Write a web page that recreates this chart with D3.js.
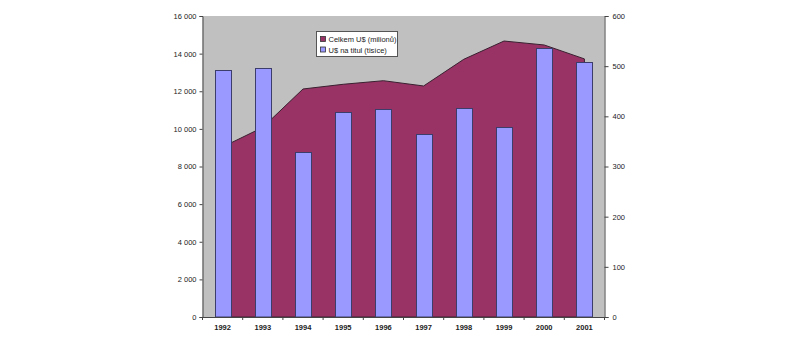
<!DOCTYPE html>
<html><head><meta charset="utf-8">
<script src="https://cdn.jsdelivr.net/npm/d3@7/dist/d3.min.js"></script>
<style>body{margin:0;background:#fff;} svg{display:block;font-family:"Liberation Sans",Arial,sans-serif;}</style>
</head><body>
<svg id="c" width="800" height="342"></svg>
<script>
const years = ["1992","1993","1994","1995","1996","1997","1998","1999","2000","2001"];
const totalUSD = [9040, 10080, 12120, 12370, 12560, 12280, 13700, 14670, 14460, 13720];
const perTitle = [492, 496, 329, 409, 415, 364, 416, 378, 536, 508];
const leftTicks = [0,2000,4000,6000,8000,10000,12000,14000,16000];
const rightTicks = [0,100,200,300,400,500,600];
const seriesNames = ["Celkem U$ (milionů)", "U$ na titul (tisíce)"];

const svg = d3.select("#c");
const L = 202.5, R = 604.5, T = 16, B = 317;
const x = d3.scaleBand().domain(years).range([L, R]).padding(0);
const yL = d3.scaleLinear().domain([0,16000]).range([B, T]);
const yR = d3.scaleLinear().domain([0,600]).range([B, T]);

svg.append("rect").attr("x", L).attr("y", T).attr("width", R-L).attr("height", B-T).attr("fill", "#c0c0c0");

const area = d3.area().x((d,i)=>x(years[i]) + x.bandwidth()/2).y0(B).y1(d=>yL(d));
svg.append("path").datum(totalUSD).attr("d", area).attr("fill", "#993366").attr("stroke", "#3a2030").attr("stroke-width", 1);

const bw = 16;
svg.selectAll("rect.bar").data(perTitle).enter().append("rect").attr("class","bar")
  .attr("x", (d,i)=>Math.round(x(years[i]) + x.bandwidth()/2 - bw/2) + 0.5)
  .attr("y", d=>Math.round(yR(d)) + 0.5)
  .attr("width", bw)
  .attr("height", d=>B - Math.round(yR(d)) - 0.5)
  .attr("fill", "#9999ff").attr("stroke", "#3d3d6b").attr("stroke-width", 1);

const fmt = d => d3.format(",")(d).replace(/,/g, " ");
const gl = svg.append("g").attr("transform", `translate(${L},0)`)
  .call(d3.axisLeft(yL).tickValues(leftTicks).tickFormat(fmt).tickSize(3).tickPadding(3));
const gr = svg.append("g").attr("transform", `translate(${R},0)`)
  .call(d3.axisRight(yR).tickValues(rightTicks).tickSize(4).tickPadding(4));
const gx = svg.append("g").attr("transform", `translate(0,${B})`)
  .call(d3.axisBottom(x).tickSize(0).tickPadding(8));
// category boundary ticks
svg.append("g").selectAll("line").data(d3.range(years.length+1)).enter().append("line")
  .attr("x1", i=>L + i*x.step()).attr("x2", i=>L + i*x.step())
  .attr("y1", B).attr("y2", B+3).attr("stroke", "#444");

[gl, gr, gx].forEach(g => {
  g.selectAll("path.domain").attr("stroke", "#444");
  g.selectAll(".tick line").attr("stroke", "#444");
  g.selectAll("text").attr("fill", "#222").style("font-size", "7.5px").style("font-family", "'Liberation Sans',Arial,sans-serif");
});
gx.select("path.domain").attr("d", `M${L},0.5H${R}`);
gx.selectAll("text").style("font-weight", "bold").style("font-size", "7.5px");

// legend
const lg = svg.append("g").attr("transform", "translate(316.5,31.5)");
lg.append("rect").attr("width", 81).attr("height", 25).attr("fill", "#fff").attr("stroke", "#555").attr("stroke-width", 1);
const cols = ["#993366", "#9999ff"];
seriesNames.forEach((n, i) => {
  lg.append("rect").attr("x", 4).attr("y", 5 + i*10.5).attr("width", 5).attr("height", 5)
    .attr("fill", cols[i]).attr("stroke", "#333").attr("stroke-width", 0.8);
  lg.append("text").attr("x", 12).attr("y", 10.5 + i*10.5).text(n)
    .attr("fill", "#222").style("font-size", "7.5px");
});
</script>
</body></html>
